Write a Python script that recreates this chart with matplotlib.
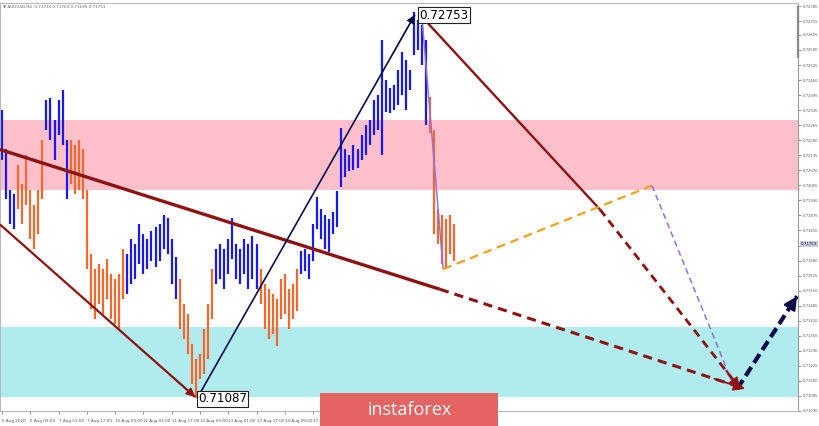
import matplotlib
matplotlib.use("Agg")
import matplotlib.pyplot as plt
from matplotlib.patches import Rectangle

# ---------------- data ----------------
bar_high = [0.72332, 0.72160, 0.71987, 0.71966, 0.72095, 0.72009, 0.72138, 0.71987, 0.71922, 0.71987,
            0.72203, 0.72375, 0.72384, 0.72289, 0.72375, 0.72418, 0.72203, 0.72203, 0.72181, 0.72203,
            0.72160, 0.71987, 0.71707, 0.71642, 0.71664, 0.71642, 0.71685, 0.71621, 0.71599, 0.71621,
            0.71729, 0.71707, 0.71772, 0.71750, 0.71836, 0.71793, 0.71772, 0.71806, 0.71823, 0.71836,
            0.71879, 0.71866, 0.71772, 0.71694, 0.71599, 0.71491, 0.71448, 0.71319, 0.71254, 0.71276,
            0.71384, 0.71491, 0.71642, 0.71729, 0.71750, 0.71729, 0.71772, 0.71866, 0.71750, 0.71729,
            0.71772, 0.71750, 0.71785, 0.71750, 0.71642, 0.71578, 0.71556, 0.71535, 0.71513, 0.71599,
            0.71621, 0.71556, 0.71578, 0.71642, 0.71720, 0.71729, 0.71707, 0.71836, 0.71953, 0.71901,
            0.71879, 0.71858, 0.71892, 0.71979, 0.72254, 0.72160, 0.72138, 0.72181, 0.72160, 0.72224,
            0.72267, 0.72289, 0.72375, 0.72397, 0.72634, 0.72461, 0.72427, 0.72440, 0.72504, 0.72582,
            0.72547, 0.72504, 0.72753, 0.72720, 0.72698, 0.72634, 0.72388, 0.72246, 0.71901, 0.71879,
            0.71858, 0.71879, 0.71836]
bar_low = [0.72116, 0.71944, 0.71836, 0.71815, 0.71901, 0.71836, 0.71922, 0.71772, 0.71729, 0.71793,
           0.71944, 0.72246, 0.72203, 0.72116, 0.72224, 0.72181, 0.71944, 0.72009, 0.71966, 0.71987,
           0.71944, 0.71642, 0.71470, 0.71427, 0.71491, 0.71448, 0.71513, 0.71427, 0.71405, 0.71384,
           0.71513, 0.71535, 0.71578, 0.71599, 0.71664, 0.71621, 0.71642, 0.71677, 0.71651, 0.71677,
           0.71729, 0.71707, 0.71578, 0.71513, 0.71384, 0.71341, 0.71276, 0.71147, 0.71087, 0.71168,
           0.71190, 0.71254, 0.71427, 0.71578, 0.71599, 0.71556, 0.71621, 0.71685, 0.71599, 0.71578,
           0.71621, 0.71556, 0.71599, 0.71556, 0.71491, 0.71384, 0.71341, 0.71362, 0.71310, 0.71427,
           0.71448, 0.71384, 0.71427, 0.71461, 0.71621, 0.71634, 0.71599, 0.71677, 0.71815, 0.71772,
           0.71729, 0.71716, 0.71793, 0.71823, 0.72000, 0.72039, 0.72065, 0.72073, 0.72082, 0.72116,
           0.72138, 0.72181, 0.72224, 0.72246, 0.72138, 0.72323, 0.72319, 0.72332, 0.72353, 0.72397,
           0.72332, 0.72418, 0.72569, 0.72591, 0.72526, 0.72267, 0.72233, 0.71793, 0.71750, 0.71664,
           0.71642, 0.71707, 0.71677]

# swings of the wave colouring: first bar of each swing, and its direction
swing_start = [0, 4, 11, 17, 31, 44, 53, 64, 74, 106]
swing_up = [True, False, True, False, True, False, True, False, True, False]

symbol = "AUDUSD,H4"
header_ohlc = ["0.71734", "0.71760", "0.71695", "0.71753"]
last_close = 0.71753

extreme_high, extreme_high_bar = 0.72753, 103.3
extreme_low, extreme_low_bar = 0.71087, 48.5

resist_zone = (0.71987, 0.72289)
support_zone = (0.71091, 0.71392)

date_tick_bars = [0, 7, 14, 21, 28, 35, 42, 49, 56, 63, 70, 77]
date_labels = ["5 Aug 2020", "6 Aug 09:00", "7 Aug 01:00", "7 Aug 17:00", "10 Aug 09:00",
               "11 Aug 01:00", "11 Aug 17:00", "12 Aug 09:00", "13 Aug 01:00", "13 Aug 17:00",
               "14 Aug 09:00", "17 Aug 01:00"]
price_ticks = [0.72780, 0.72715, 0.72655, 0.72590, 0.72525, 0.72460, 0.72395, 0.72330, 0.72265,
               0.72200, 0.72135, 0.72070, 0.72005, 0.71940, 0.71875, 0.71810, 0.71745, 0.71680,
               0.71615, 0.71550, 0.71485, 0.71420, 0.71355, 0.71290, 0.71225, 0.71160, 0.71095,
               0.71030]

# wave mark-up (bar index, price)
wave_a_x, wave_a_y = [-0.5, 47.8], [0.71836, 0.71091]
trend_x, trend_y = [-0.5, 108.4], [0.72160, 0.71556]
trend_ext_x, trend_ext_y = [108.4, 183.9], [0.71556, 0.71126]
wave_b_x, wave_b_y = [48.5, 102.2], [0.71091, 0.72742]
wave_c_x, wave_c_y = [103.5, 148.0], [0.72742, 0.71901]
wave_c_ext_x, wave_c_ext_y = [148.0, 182.7], [0.71901, 0.71126]
sub_a_x, sub_a_y = [104.0, 109.2], [0.72720, 0.71643]
sub_b_x, sub_b_y = [109.2, 160.9], [0.71643, 0.72004]
sub_c_x, sub_c_y = [160.9, 181.4], [0.72004, 0.71126]
next_x, next_y = [182.0, 196.8], [0.71126, 0.71526]

# ---------------- colours ----------------
BLUE = "#1a1ae6"
ORANGE = "#f2692e"
DARKRED = "#8e1212"
NAVY = "#0c0c4a"
PURPLE = "#9370db"
GOLD = "#eea21f"

W, H = 820, 426
fig = plt.figure(figsize=(W / 100, H / 100), dpi=100)
fig.patch.set_facecolor("white")
ax = fig.add_axes([0, 1 - 411 / H, 798 / W, 408 / H])
ax.set_xlim(-0.495, 197.03)
ax.set_ylim(0.71035, 0.72793)
ax.set_facecolor("white")

# zones
ax.axhspan(*resist_zone, color="#ffc0cb", lw=0, zorder=0)
ax.axhspan(*support_zone, color="#b0ebee", lw=0, zorder=0)

# bars coloured by swing
bounds = swing_start + [len(bar_high)]
for k in range(len(swing_start)):
    idx = list(range(bounds[k], bounds[k + 1]))
    ax.vlines(idx, [bar_low[i] for i in idx], [bar_high[i] for i in idx],
              colors=BLUE if swing_up[k] else ORANGE, lw=1.6, zorder=2)


def line(xs, ys, color, lw, ls="-", head=False, hl=0.6, hw=0.3, ms=10, dashes=None):
    kw = dict(color=color, lw=lw, solid_capstyle="butt", zorder=5)
    if dashes is not None:
        ax.plot(xs, ys, ls="--", dashes=dashes, **kw)
    else:
        ax.plot(xs, ys, ls=ls, **kw)
    if head:
        x0, x1 = xs
        y0, y1 = ys
        ax.annotate("", xy=(x1, y1), xytext=(x0 + 0.9 * (x1 - x0), y0 + 0.9 * (y1 - y0)),
                    arrowprops=dict(arrowstyle=f"-|>,head_length={hl},head_width={hw}",
                                    color=color, lw=lw * 0.6, shrinkA=0, shrinkB=0,
                                    mutation_scale=ms), zorder=6)


line(wave_a_x, wave_a_y, DARKRED, 1.6, head=True, ms=9)
line(trend_x, trend_y, DARKRED, 2.4)
line(trend_ext_x, trend_ext_y, DARKRED, 2.2, dashes=(3, 2), head=True, ms=11)
line(wave_b_x, wave_b_y, NAVY, 1.2, head=True, ms=9)
line(wave_c_x, wave_c_y, DARKRED, 1.7)
line(wave_c_ext_x, wave_c_ext_y, DARKRED, 2.0, dashes=(3, 2), head=True, ms=11)
line(sub_a_x, sub_a_y, PURPLE, 1.1)
line(sub_b_x, sub_b_y, GOLD, 1.6, dashes=(4, 2.5))
line(sub_c_x, sub_c_y, PURPLE, 1.1, dashes=(4, 2.5))
line(next_x, next_y, NAVY, 3.0, dashes=(2.5, 1.2), head=True, ms=13)

# extreme labels
box = dict(boxstyle="square,pad=0.12", fc="white", ec="#222222", lw=0.8)
ax.text(extreme_high_bar, extreme_high - 0.00012, f"{extreme_high:.5f}", fontsize=8.6,
        ha="left", va="center", bbox=box, zorder=8, color="black")
ax.text(extreme_low_bar, extreme_low - 0.00005, f"{extreme_low:.5f}", fontsize=8.6,
        ha="left", va="center", bbox=box, zorder=8, color="black")

# axes styling
for s in ["left", "top", "bottom"]:
    ax.spines[s].set_color("#b8b8b8")
    ax.spines[s].set_linewidth(0.8)
ax.spines["right"].set_color("#9a9a9a")
ax.spines["right"].set_linewidth(0.8)

ax.yaxis.tick_right()
ax.set_yticks(price_ticks)
# the label under the current-price box is hidden, as in the terminal
ax.set_yticklabels(["" if abs(p - last_close) < 0.0002 else f"{p:.5f}" for p in price_ticks])
ax.tick_params(axis="y", labelsize=2.7, colors="#666666", length=2, width=0.5, pad=1.2,
               labelcolor="#555555")
ax.set_xticks(date_tick_bars)
ax.set_xticklabels(date_labels, ha="left")
ax.tick_params(axis="x", labelsize=3.0, colors="#666666", length=2.5, width=0.5, pad=3,
               labelcolor="#555555")

# scale marker on right axis
ax.plot([1.0, 1.0], [0.72775, 0.72560], color="#8a8a8a", lw=1.6,
        transform=ax.get_yaxis_transform(), clip_on=False, zorder=7)

# current price box
ax.text(1.004, last_close, f"{last_close:.5f}", transform=ax.get_yaxis_transform(),
        fontsize=2.9, ha="left", va="center", color="#222244",
        bbox=dict(boxstyle="square,pad=0.25", fc="#c4c8d6", ec="none"), zorder=9, clip_on=False)

# header
fig.text(3 / W, 1 - 7 / H, "\u25bc " + symbol + "  " + " ".join(header_ohlc), fontsize=3.0,
         color="#666666", ha="left", va="center")

# logo
fig.patches.append(Rectangle((320 / W, 0), 178 / W, 33 / H, transform=fig.transFigure,
                             facecolor="#e46464", edgecolor="none", zorder=20))
fig.text(410 / W, 1 - 410 / H, "instaforex", color="white", fontsize=13, ha="center",
         va="center", family="Open Sans", zorder=21)

fig.savefig("out.png", dpi=100, facecolor="white")
